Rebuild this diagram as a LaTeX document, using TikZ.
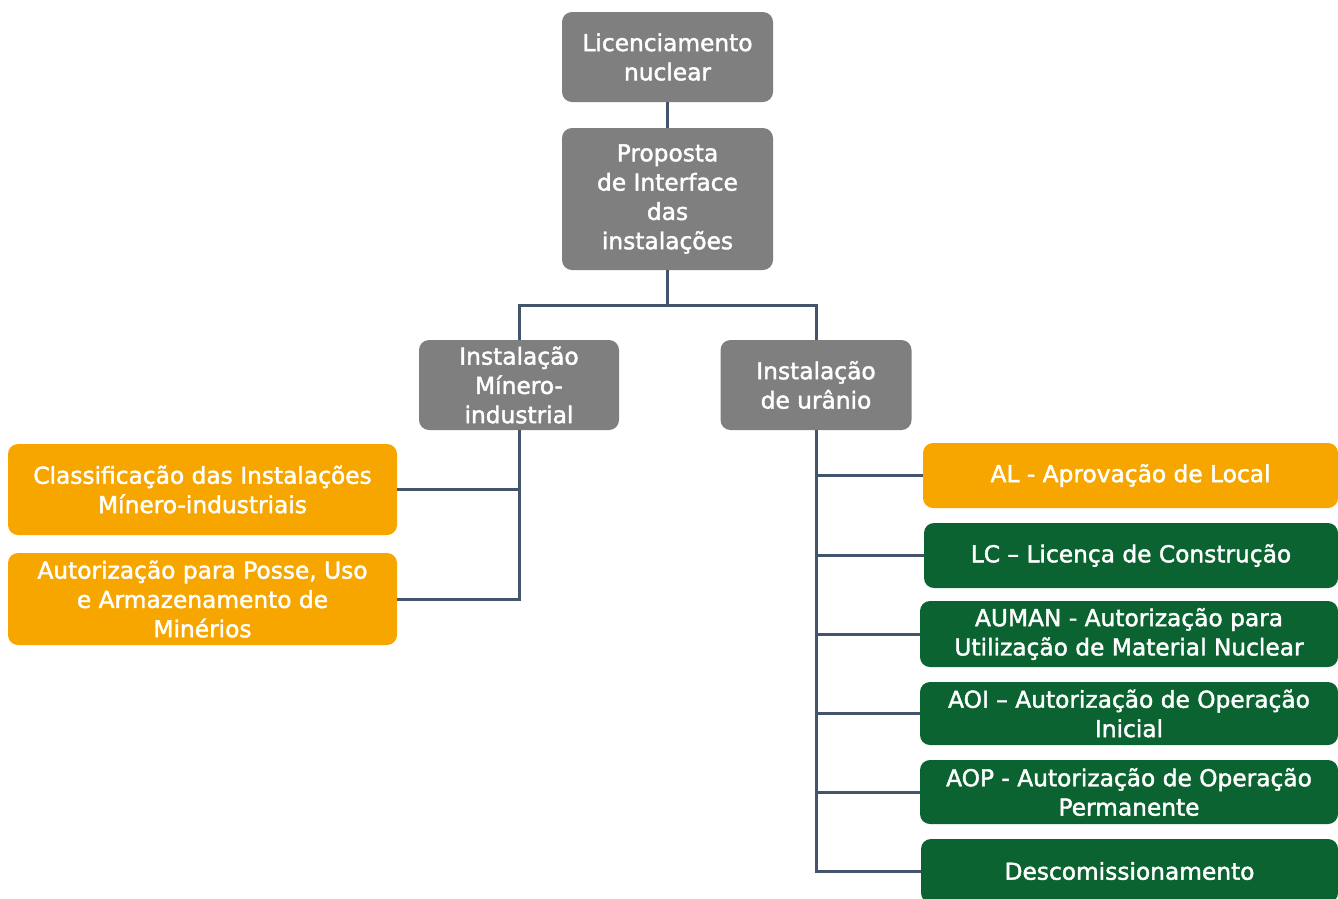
\documentclass[tikz,border=0pt]{standalone}
\usepackage{fontspec}
\setmainfont{DejaVu Sans}
\newfontfamily\boxfont[FakeBold=1.8]{DejaVu Sans}
\usepackage{tikz}

\definecolor{boxgray}{RGB}{127,127,127}
\definecolor{boxorange}{RGB}{247,166,0}
\definecolor{boxgreen}{RGB}{11,99,49}
\definecolor{linkblue}{RGB}{68,84,106}

\tikzset{
  box/.style={rounded corners=10pt, text=white, align=center, inner sep=0pt,
    font=\boxfont\fontsize{23.3}{29.3}\selectfont},
  graybox/.style={box, fill=boxgray, minimum width=211pt},
  orangebox/.style={box, fill=boxorange},
  greenbox/.style={box, fill=boxgreen},
  link/.style={draw=linkblue, line width=3pt}
}

\begin{document}
\begin{tikzpicture}[x=1pt, y=-1pt]
    \useasboundingbox (0,0) rectangle (1338,898);
    \clip (0,0) rectangle (1338,898);
    \node[graybox, minimum height=90pt] (lic) at (667.5, 57){Licenciamento\\nuclear};
    \node[graybox, minimum height=142pt] (prop) at (667.5, 199){Proposta\\de Interface\\das\\instalações};
    \node[graybox, minimum width=200pt, minimum height=90pt] (mineral) at (519, 385){Instalação\\Mínero-\\industrial};
    \node[graybox, minimum width=191pt, minimum height=90pt] (uranio) at (816, 385){Instalação\\de urânio};
    \node[orangebox, minimum width=389pt, minimum height=91pt] (class) at (202.5, 489.5){Classificação das Instalações\\Mínero-industriais};
    \node[orangebox, minimum width=389pt, minimum height=92pt] (autpos) at (202.5, 599){Autorização para Posse, Uso\\e Armazenamento de\\Minérios};
    \node[orangebox, minimum width=415pt, minimum height=65pt] (al) at (1130.5, 475.5){AL - Aprovação de Local};
    \node[greenbox, minimum width=414pt, minimum height=65pt] (lc) at (1131, 555.5){LC – Licença de Construção};
    \node[greenbox, minimum width=418pt, minimum height=66pt] (auman) at (1129, 634){AUMAN - Autorização para\\Utilização de Material Nuclear};
    \node[greenbox, minimum width=418pt, minimum height=63pt] (aoi) at (1129, 713.5){AOI – Autorização de Operação\\Inicial};
    \node[greenbox, minimum width=418pt, minimum height=64pt] (aop) at (1129, 792){AOP - Autorização de Operação\\Permanente};
    \node[greenbox, minimum width=417pt, minimum height=64pt] (desc) at (1129.5, 871){Descomissionamento};
    \coordinate (split) at (667.5, 305);
    \draw[link] (lic)--(prop);
    \draw[link] (prop)--(split);
    \draw[link] (split) -| (mineral);
    \draw[link] (split) -| (uranio);
    \draw[link] (mineral.south) |- (class.east);
    \draw[link] (mineral.south) |- (autpos.east);
    \draw[link] (uranio.south) |- (al.west);
    \draw[link] (uranio.south) |- (lc.west);
    \draw[link] (uranio.south) |- (auman.west);
    \draw[link] (uranio.south) |- (aoi.west);
    \draw[link] (uranio.south) |- (aop.west);
    \draw[link] (uranio.south) |- (desc.west);
  \end{tikzpicture}
\end{document}
